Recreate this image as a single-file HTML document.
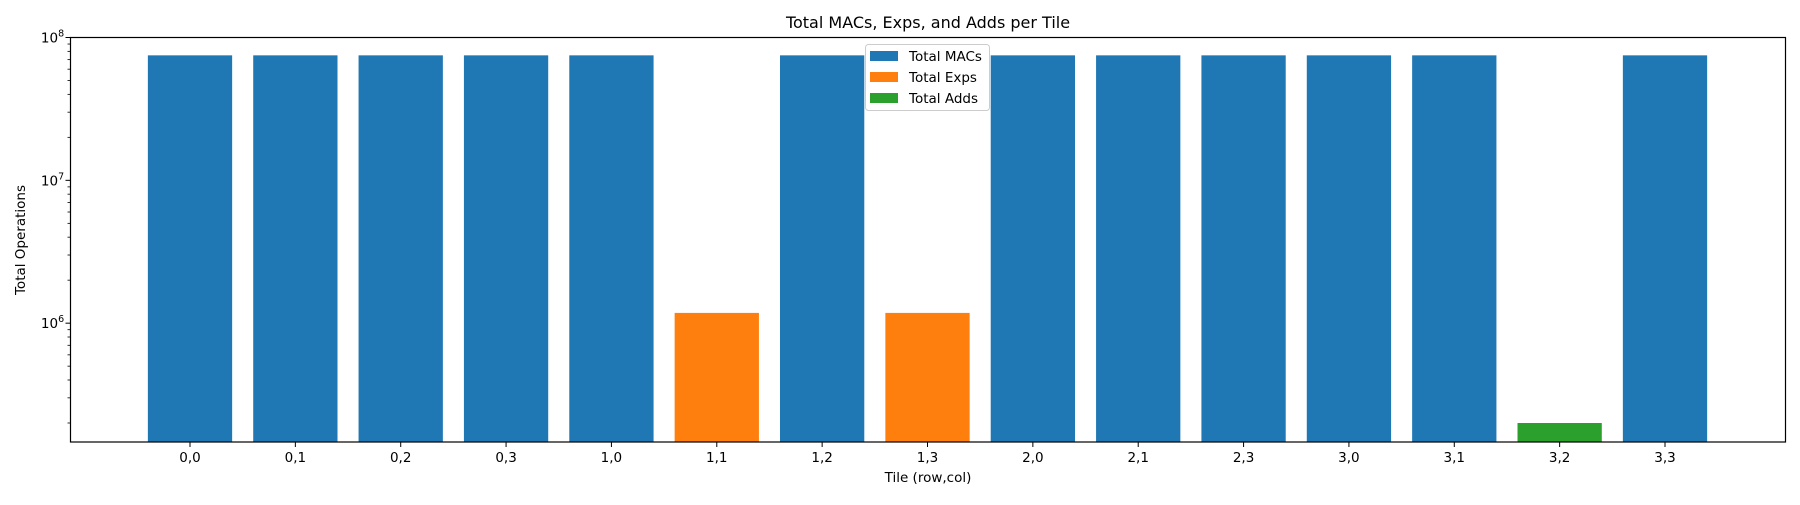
<!DOCTYPE html>
<html><head><meta charset="utf-8">
<style>
body{margin:0;background:#fff;}
svg text{font-family:"DejaVu Sans","Liberation Sans",sans-serif;fill:#000;}
</style></head>
<body>
<svg id="chart" width="1800" height="500" xmlns="http://www.w3.org/2000/svg">
<text x="928" y="28" font-size="16" text-anchor="middle">Total MACs, Exps, and Adds per Tile</text>
<g id="bars"></g>
<g id="axes"></g>
<text x="928" y="482" font-size="13.5" text-anchor="middle">Tile (row,col)</text>
<text transform="translate(25,240) rotate(-90)" font-size="13.5" text-anchor="middle">Total Operations</text>
<g>
<rect x="865.5" y="44.5" width="124" height="66" rx="3" fill="#fff" fill-opacity="0.8" stroke="#ccc"/>
<rect x="870" y="51" width="28" height="10" fill="#1f77b4"/>
<text x="909" y="61" font-size="13.5">Total MACs</text>
<rect x="870" y="72" width="28" height="10" fill="#ff7f0e"/>
<text x="909" y="82" font-size="13.5">Total Exps</text>
<rect x="870" y="93" width="28" height="10" fill="#2ca02c"/>
<text x="909" y="103" font-size="13.5">Total Adds</text>
</g>
</svg>
<script>
const categories=["0,0","0,1","0,2","0,3","1,0","1,1","1,2","1,3","2,0","2,1","2,3","3,0","3,1","3,2","3,3"];
const macs=[7.5e7,7.5e7,7.5e7,7.5e7,7.5e7,0,7.5e7,0,7.5e7,7.5e7,7.5e7,7.5e7,7.5e7,0,7.5e7];
const exps=[0,0,0,0,0,1.18e6,0,1.18e6,0,0,0,0,0,0,0];
const adds=[0,0,0,0,0,0,0,0,0,0,0,0,0,2.0e5,0];
const yTickExps=[6,7,8];

const L=70.5,R=1785.5,T=37.5,B=442;
const yMinLog=5.168,yMaxLog=8.0;
function y(v){return B-(Math.log10(v)-yMinLog)/(yMaxLog-yMinLog)*(B-T);}
const x0=190,step=(1665-190)/14;
function x(i){return x0+i*step;}
const bw=step*0.8;
const NS="http://www.w3.org/2000/svg";
const bars=document.getElementById('bars'),axes=document.getElementById('axes');
function mk(tag,attrs,parent){const e=document.createElementNS(NS,tag);for(const k in attrs)e.setAttribute(k,attrs[k]);parent.appendChild(e);return e;}
const series=[[macs,"#1f77b4","macs"],[exps,"#ff7f0e","exps"],[adds,"#2ca02c","adds"]];
series.forEach(([arr,col,nm])=>{
 arr.forEach((v,i)=>{
  if(v<=0)return;
  const yt=y(v);
  const r=mk('rect',{x:x(i)-bw/2,y:yt,width:bw,height:B-yt,fill:col},bars);
  
  
 });
});
mk('rect',{x:L,y:T,width:R-L,height:B-T,fill:'none',stroke:'#000','stroke-width':1.2},axes);
categories.forEach((c,i)=>{
 mk('line',{x1:x(i),x2:x(i),y1:B,y2:B+5,stroke:'#000'},axes);
 const t=mk('text',{x:x(i),y:B+20,'font-size':13.5,'text-anchor':'middle'},axes);
 t.textContent=c;
 
 
});
yTickExps.forEach(e=>{
 const yy=y(Math.pow(10,e));
 mk('line',{x1:L-5,x2:L,y1:yy,y2:yy,stroke:'#000'},axes);
 const t=mk('text',{x:L-18,y:yy+5,'font-size':13.5,'text-anchor':'middle'},axes);
 t.innerHTML='10<tspan dy="-6" font-size="9.5">'+e+'</tspan>';
 
 
});
for(let e=5;e<8;e++){for(let m=2;m<=9;m++){const v=m*Math.pow(10,e);const lv=Math.log10(v);if(lv<yMinLog||lv>yMaxLog)continue;const yy=y(v);mk('line',{x1:L-3,x2:L,y1:yy,y2:yy,stroke:'#000','stroke-width':0.8},axes);}}
</script>
</body></html>
